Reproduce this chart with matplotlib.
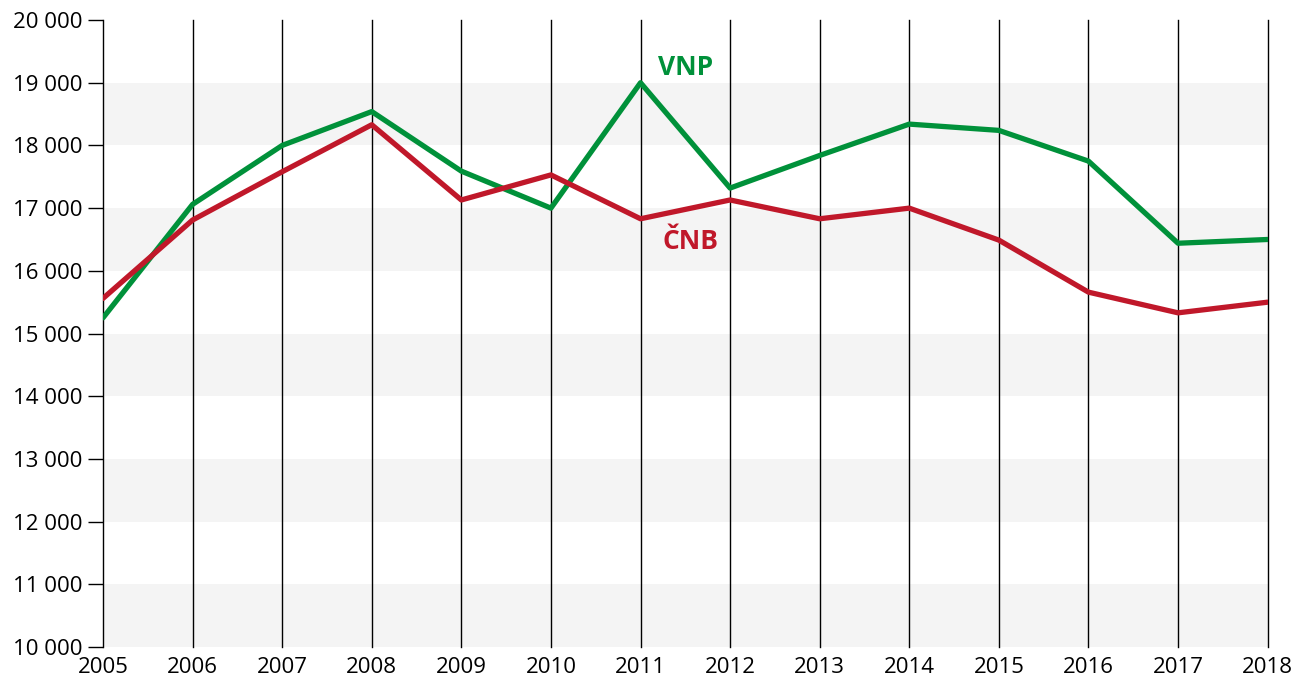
import matplotlib
matplotlib.use("Agg")
import matplotlib.pyplot as plt
from matplotlib.ticker import FuncFormatter

# data
years = [2005, 2006, 2007, 2008, 2009, 2010, 2011, 2012, 2013, 2014, 2015, 2016, 2017, 2018]
vnp = [15250, 17060, 18000, 18540, 17590, 17000, 19000, 17320, 17840, 18340, 18240, 17750, 16440, 16500]
cnb = [15560, 16810, 17580, 18330, 17130, 17530, 16830, 17130, 16830, 17000, 16490, 15660, 15330, 15500]

GREEN = "#00913a"
RED = "#c0182a"

plt.rcParams['font.family'] = ['Open Sans', 'DejaVu Sans']

fig = plt.figure(figsize=(12.94, 6.79), dpi=100)
ax = fig.add_axes([0.0796, 0.0471, 0.9, 0.9234])

# alternating grey bands
for lo in range(10000, 20000, 2000):
    ax.axhspan(lo, lo + 1000, color="#f4f4f4", lw=0, zorder=0)

# vertical year lines
for yr in years[1:]:
    ax.axvline(yr, color="black", lw=1, zorder=1, clip_on=False)

ax.plot(years, vnp, color=GREEN, lw=3.8, zorder=3, solid_capstyle="round")
ax.plot(years, cnb, color=RED, lw=3.8, zorder=3, solid_capstyle="round")

ax.text(2011.2, 19240, "VNP", color=GREEN, fontsize=19, fontweight="bold", va="center")
ax.text(2011.25, 16470, "ČNB", color=RED, fontsize=19, fontweight="bold", va="center")

ax.set_xlim(2005, 2018)
ax.set_ylim(10000, 20000)
ax.set_xticks(years)
ax.set_yticks(range(10000, 20001, 1000))
ax.yaxis.set_major_formatter(FuncFormatter(lambda v, p: "{:,.0f}".format(v).replace(",", " ")))

for s in ["top", "right", "bottom"]:
    ax.spines[s].set_visible(False)
ax.spines["left"].set_linewidth(1)
ax.tick_params(axis="y", length=11, width=1, labelsize=16, pad=4)
ax.tick_params(axis="x", length=0, labelsize=16, pad=7)

fig.savefig("out.png", dpi=100)
